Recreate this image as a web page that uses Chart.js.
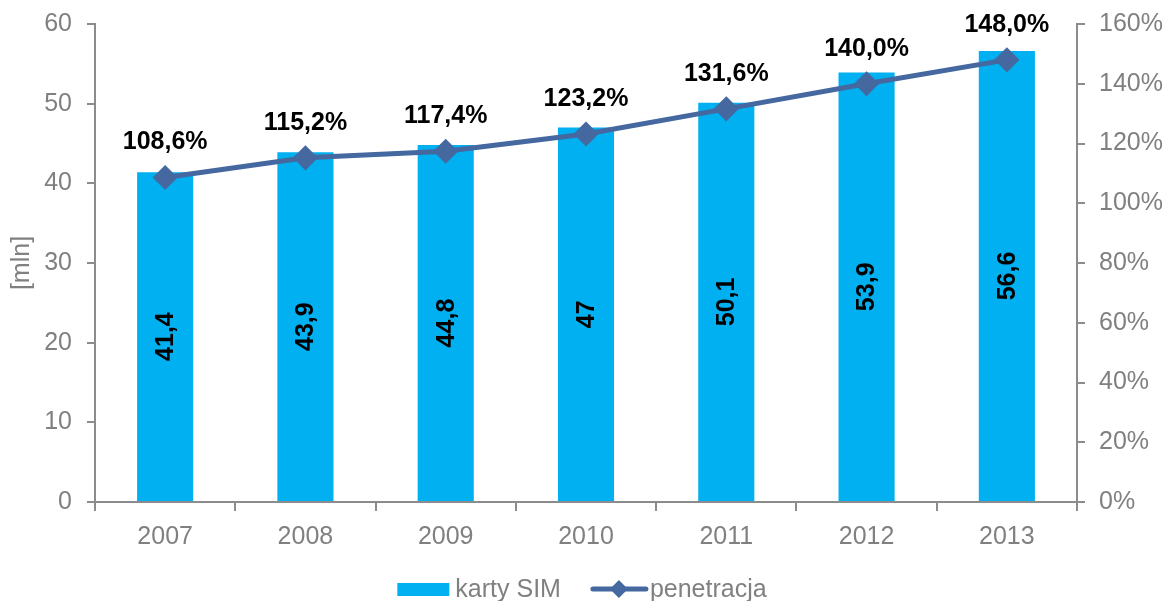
<!DOCTYPE html>
<html lang="pl">
<head>
  <meta charset="UTF-8" />
  <title>Karty SIM i penetracja</title>
  <script src="https://cdn.jsdelivr.net/npm/chart.js"></script>
  <style>
    body {
      margin: 0;
      padding: 0;
      background: white;
      font-family: 'Liberation Sans', Arial, sans-serif;
    }
    #simChart {
      display: block;
    }
  </style>
</head>
<body>
  <canvas id="simChart" width="1170" height="601"></canvas>

  <script>
    const years = ['2007', '2008', '2009', '2010', '2011', '2012', '2013'];
    const simCards = [41.4, 43.9, 44.8, 47, 50.1, 53.9, 56.6];
    const penetration = [108.6, 115.2, 117.4, 123.2, 131.6, 140.0, 148.0];

    const barColor = '#00b0f0';
    const lineColor = '#44689f';
    const greyText = '#808080';
    const axisGrey = '#8c8c8c';
    const fontFamily = '"Liberation Sans", Arial, sans-serif';

    // polish number format: comma as decimal separator
    const fmt = (v, d) => (d == null ? String(v) : v.toFixed(d)).replace('.', ',');

    const valueLabels = {
      id: 'valueLabels',
      afterDatasetsDraw(chart) {
        const ctx = chart.ctx;
        ctx.save();
        ctx.fillStyle = '#000';
        ctx.font = 'bold 25px ' + fontFamily;
        ctx.textAlign = 'center';
        ctx.textBaseline = 'middle';

        chart.getDatasetMeta(0).data.forEach((bar, i) => {
          const midY = (bar.y + bar.base) / 2;
          ctx.save();
          ctx.translate(bar.x, midY);
          ctx.rotate(-Math.PI / 2);
          ctx.fillText(fmt(simCards[i]), 0, 1);
          ctx.restore();
        });

        chart.getDatasetMeta(1).data.forEach((pt, i) => {
          ctx.fillText(fmt(penetration[i], 1) + '%', pt.x, pt.y - 35);
        });

        // left axis title
        ctx.fillStyle = greyText;
        ctx.font = '25px ' + fontFamily;
        ctx.save();
        ctx.translate(22, 263);
        ctx.rotate(-Math.PI / 2);
        ctx.fillText('[mln]', 0, 0);
        ctx.restore();

        // legend below the axis
        ctx.textAlign = 'left';
        const t1 = chart.data.datasets[0].label;
        const t2 = chart.data.datasets[1].label;
        const w1 = ctx.measureText(t1).width;
        const w2 = ctx.measureText(t2).width;
        const total = 52 + 6 + w1 + 30 + 57 + 2 + w2;
        let x = 582 - total / 2;
        const y = 589;
        ctx.fillStyle = barColor;
        ctx.fillRect(x, y - 6, 52, 13);
        x += 58;
        ctx.fillStyle = greyText;
        ctx.fillText(t1, x, y + 1);
        x += w1 + 30;
        ctx.strokeStyle = lineColor;
        ctx.lineWidth = 5;
        ctx.lineCap = 'round';
        ctx.beginPath();
        ctx.moveTo(x + 2, y);
        ctx.lineTo(x + 55, y);
        ctx.stroke();
        ctx.fillStyle = lineColor;
        ctx.beginPath();
        ctx.moveTo(x + 28, y - 9);
        ctx.lineTo(x + 37, y);
        ctx.lineTo(x + 28, y + 9);
        ctx.lineTo(x + 19, y);
        ctx.closePath();
        ctx.fill();
        x += 59;
        ctx.fillStyle = greyText;
        ctx.fillText(t2, x, y + 1);
        ctx.restore();
      }
    };

    const tickFont = { family: fontFamily, size: 25 };

    // fixed side widths, no extra label padding above the plot
    const fitSide = w => scale => {
      scale.width = w;
      scale.paddingTop = 0;
      scale.paddingBottom = 0;
    };

    new Chart(document.getElementById('simChart'), {
      data: {
        labels: years,
        datasets: [
          {
            type: 'bar',
            label: 'karty SIM',
            data: simCards,
            backgroundColor: barColor,
            yAxisID: 'y',
            barPercentage: 0.4,
            categoryPercentage: 1,
            order: 2
          },
          {
            type: 'line',
            label: 'penetracja',
            data: penetration,
            borderColor: lineColor,
            backgroundColor: lineColor,
            borderWidth: 5,
            pointStyle: 'rectRot',
            pointRadius: 9,
            pointHoverRadius: 9,
            yAxisID: 'y1',
            order: 1
          }
        ]
      },
      options: {
        responsive: false,
        animation: false,
        layout: { padding: { top: 24, bottom: 0 } },
        plugins: {
          tooltip: { enabled: false },
          legend: { display: false }
        },
        scales: {
          x: {
            offset: true,
            grid: {
              offset: true,
              drawOnChartArea: false,
              drawTicks: true,
              tickLength: 9,
              color: axisGrey,
              lineWidth: 2
            },
            border: { display: true, color: axisGrey, width: 2 },
            ticks: { color: greyText, font: tickFont, padding: 11 },
            afterFit(scale) {
              scale.height = 99;
              scale.paddingLeft = 0;
              scale.paddingRight = 0;
            }
          },
          y: {
            position: 'left',
            min: 0,
            max: 60,
            ticks: { stepSize: 10, color: greyText, font: tickFont, padding: 15 },
            grid: { drawOnChartArea: false, tickLength: 8, color: axisGrey, lineWidth: 2 },
            border: { display: true, color: axisGrey, width: 2 },
            afterFit: fitSide(95)
          },
          y1: {
            position: 'right',
            min: 0,
            max: 160,
            ticks: {
              stepSize: 20,
              color: greyText,
              font: tickFont,
              padding: 14,
              callback: v => v + '%'
            },
            grid: { drawOnChartArea: false, tickLength: 8, color: axisGrey, lineWidth: 2 },
            border: { display: true, color: axisGrey, width: 2 },
            afterFit: fitSide(93)
          }
        }
      },
      plugins: [valueLabels]
    });
  </script>
</body>
</html>
